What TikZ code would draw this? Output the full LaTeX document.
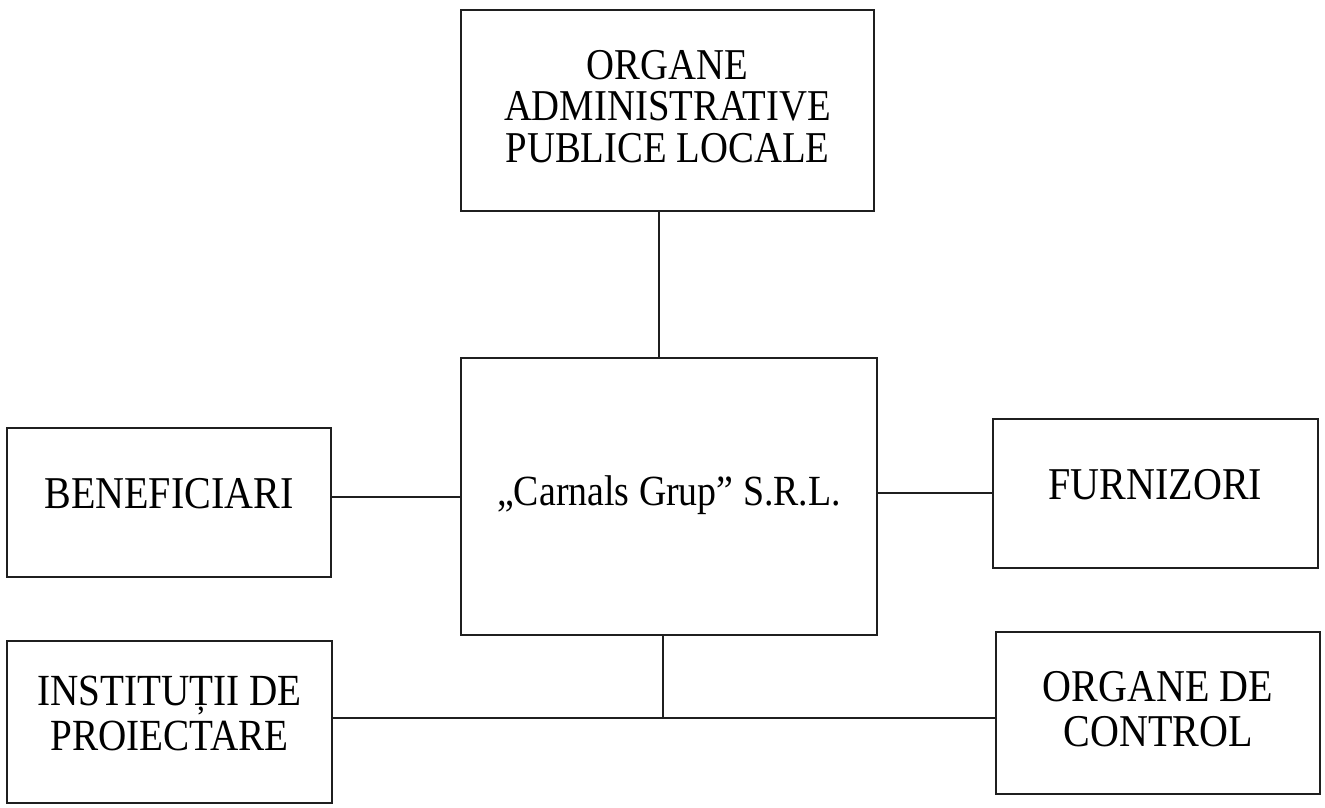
\documentclass[tikz,border=0pt]{standalone}
\usepackage{fontspec}
\setmainfont[FakeStretch=0.88]{Liberation Serif}
\newcommand\padbelow[1]{\rule[-#1]{0pt}{#1}}
\begin{document}
\begin{tikzpicture}[x=1pt,y=-1pt,
  box/.style={draw=black!88,line width=1.7pt,rectangle,inner sep=0pt,align=center,
    font=\fontsize{44}{41.5}\selectfont},
  bigtext/.style={font=\fontsize{45.5}{45}\selectfont},
  link/.style={draw=black!88,line width=1.6pt}]
\useasboundingbox[fill=white] (0,0) rectangle (1325,807);
\node[box,minimum width=413pt,minimum height=201pt] (top) at (667.5,110.5)
  {ORGANE\\ADMINISTRATIVE\\PUBLICE LOCALE\padbelow{9pt}};
\node[box,font=\fontsize{43}{42}\selectfont,minimum width=416pt,minimum height=277pt] (center) at (669,496.5)
  {„Carnals Grup” S.R.L.\padbelow{11pt}};
\node[box,bigtext,minimum width=324pt,minimum height=149pt] (benef) at (169,502.5)
  {BENEFICIARI\padbelow{19pt}};
\node[box,bigtext,minimum width=325pt,minimum height=149pt] (furn) at (1155.5,493.5)
  {FURNIZORI\padbelow{19pt}};
\node[box,font=\fontsize{44.5}{45}\selectfont,minimum width=325pt,minimum height=162pt] (instit) at (169.5,722)
  {INSTITUȚII DE\\PROIECTARE\padbelow{18pt}};
\node[box,bigtext,minimum width=324pt,minimum height=162pt] (control) at (1158,713)
  {ORGANE DE\\CONTROL\padbelow{8pt}};
\coordinate (tx) at (659,0);
\coordinate (ly) at (0,497);
\coordinate (ry) at (0,493);
\coordinate (j) at (663,718);
\draw[link] (top.south -| tx) -- (center.north -| tx);
\draw[link] (benef.east |- ly) -- (center.west |- ly);
\draw[link] (center.east |- ry) -- (furn.west |- ry);
\draw[link] (center.south -| j) -- (j);
\draw[link] (instit.east |- j) -- (control.west |- j);
\end{tikzpicture}
\end{document}
